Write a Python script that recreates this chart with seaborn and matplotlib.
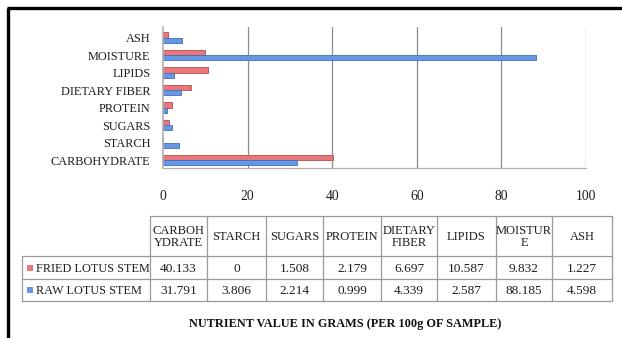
import matplotlib
matplotlib.use("Agg")
import matplotlib.pyplot as plt
import seaborn as sns
import pandas as pd

# Nutrient categories (top to bottom on the chart) and the two sample series
categories = ["ASH", "MOISTURE", "LIPIDS", "DIETARY FIBER", "PROTEIN",
              "SUGARS", "STARCH", "CARBOHYDRATE"]
fried_values = [1.227, 9.832, 10.587, 6.697, 2.179, 1.508, 0.0, 40.133]
raw_values = [4.598, 88.185, 2.587, 4.339, 0.999, 2.214, 3.806, 31.791]
series_names = ["FRIED LOTUS STEM", "RAW LOTUS STEM"]

# Data table below the chart (column order as printed)
table_headers = ["CARBOH\nYDRATE", "STARCH", "SUGARS", "PROTEIN", "DIETARY\nFIBER",
                 "LIPIDS", "MOISTUR\nE", "ASH"]
table_order = ["CARBOHYDRATE", "STARCH", "SUGARS", "PROTEIN", "DIETARY FIBER",
               "LIPIDS", "MOISTURE", "ASH"]
x_ticks = [0, 20, 40, 60, 80, 100]
title_text = "NUTRIENT VALUE IN GRAMS (PER 100g OF SAMPLE)"

red = "#e8777b"
blue = "#6797e3"
red_edge = "#c0494d"
blue_edge = "#3f6fbf"
text_c = "#1e1e1e"

sns.set_theme(style="white")
plt.rcParams["font.family"] = ["Liberation Serif", "DejaVu Serif"]

df = pd.DataFrame({
    "nutrient": categories * 2,
    "value": fried_values + raw_values,
    "sample": [series_names[0]] * len(categories) + [series_names[1]] * len(categories),
})

W, H = 622, 338
fig = plt.figure(figsize=(W / 100, H / 100), dpi=100)
fig.patch.set_facecolor("white")

# Bar chart area in pixel terms: x 163..586, y 27..168
ax = fig.add_axes([163 / W, 1 - 168 / H, 423 / W, 141 / H])
sns.barplot(data=df, y="nutrient", x="value", hue="sample", order=categories,
            hue_order=series_names, palette=[red, blue], orient="h",
            width=0.6, ax=ax, legend=False, saturation=1)
for patch, edge in zip(ax.patches, [red_edge] * len(categories) + [blue_edge] * len(categories)):
    patch.set_edgecolor(edge)
    patch.set_linewidth(0.6)

ax.set_xlim(0, 100)
ax.set_ylim(7.45, -0.6)
ax.set_xticks(x_ticks)
ax.set_xticklabels([str(t) for t in x_ticks], fontsize=9.8, color=text_c)
ax.tick_params(axis="x", length=0, pad=16)
ax.tick_params(axis="y", length=0, pad=9, labelsize=8.8, labelcolor=text_c)
ax.set_xlabel("")
ax.set_ylabel("")
for t in x_ticks[1:]:
    ax.axvline(t, color="#8c8c8c", lw=0.9, zorder=0)
for side in ["top", "right"]:
    ax.spines[side].set_visible(False)
ax.spines["left"].set_color("#b0b0b0")
ax.spines["left"].set_linewidth(1.2)
ax.spines["bottom"].set_color("#b0b0b0")
ax.spines["bottom"].set_linewidth(0.9)

# Overlay axes in pixel coordinates for the frame, data table and title
ov = fig.add_axes([0, 0, 1, 1])
ov.set_xlim(0, W)
ov.set_ylim(H, 0)
ov.axis("off")
ov.patch.set_alpha(0)

# Outer frame
ov.plot([8, 8], [8, H], color="black", lw=2.4, solid_capstyle="butt")
ov.plot([7, W], [8, 8], color="black", lw=2.4, solid_capstyle="butt")

# Table geometry
col_edges = [150, 207, 266, 323, 381, 437, 496, 552, 612]
row_edges = [216, 256, 279, 301]
label_left = 22
grid_c = "#9a9a9a"
lw = 0.9

ov.plot([col_edges[0], col_edges[-1]], [row_edges[0]] * 2, color=grid_c, lw=lw)
for y in row_edges[1:]:
    ov.plot([label_left, col_edges[-1]], [y, y], color=grid_c, lw=lw)
for x in col_edges:
    ov.plot([x, x], [row_edges[0], row_edges[-1]], color=grid_c, lw=lw)
ov.plot([label_left, label_left], [row_edges[1], row_edges[-1]], color=grid_c, lw=lw)

lookup_f = dict(zip(categories, fried_values))
lookup_r = dict(zip(categories, raw_values))


def fmt(v):
    return "0" if v == 0 else f"{v:.3f}"


for i, head in enumerate(table_headers):
    cx = (col_edges[i] + col_edges[i + 1]) / 2
    ov.text(cx, (row_edges[0] + row_edges[1]) / 2 + 1, head, ha="center", va="center",
            fontsize=9.0, color=text_c, linespacing=1.05)
    name = table_order[i]
    ov.text(cx, (row_edges[1] + row_edges[2]) / 2 + 1, fmt(lookup_f[name]),
            ha="center", va="center", fontsize=9.6, color=text_c)
    ov.text(cx, (row_edges[2] + row_edges[3]) / 2 + 1, fmt(lookup_r[name]),
            ha="center", va="center", fontsize=9.6, color=text_c)

# Legend entries inside the row-label cells
for k, (name, col) in enumerate(zip(series_names, [red, blue])):
    yc = (row_edges[k + 1] + row_edges[k + 2]) / 2
    ov.add_patch(plt.Rectangle((27, yc - 3), 6, 6, color=col, lw=0))
    ov.text(36, yc + 1, name, ha="left", va="center", fontsize=8.8, color=text_c)

ov.text(345, 324, title_text, ha="center", va="center", fontsize=8.8,
        fontweight="bold", color="#111111")

fig.savefig("out.png", dpi=100, facecolor="white")
